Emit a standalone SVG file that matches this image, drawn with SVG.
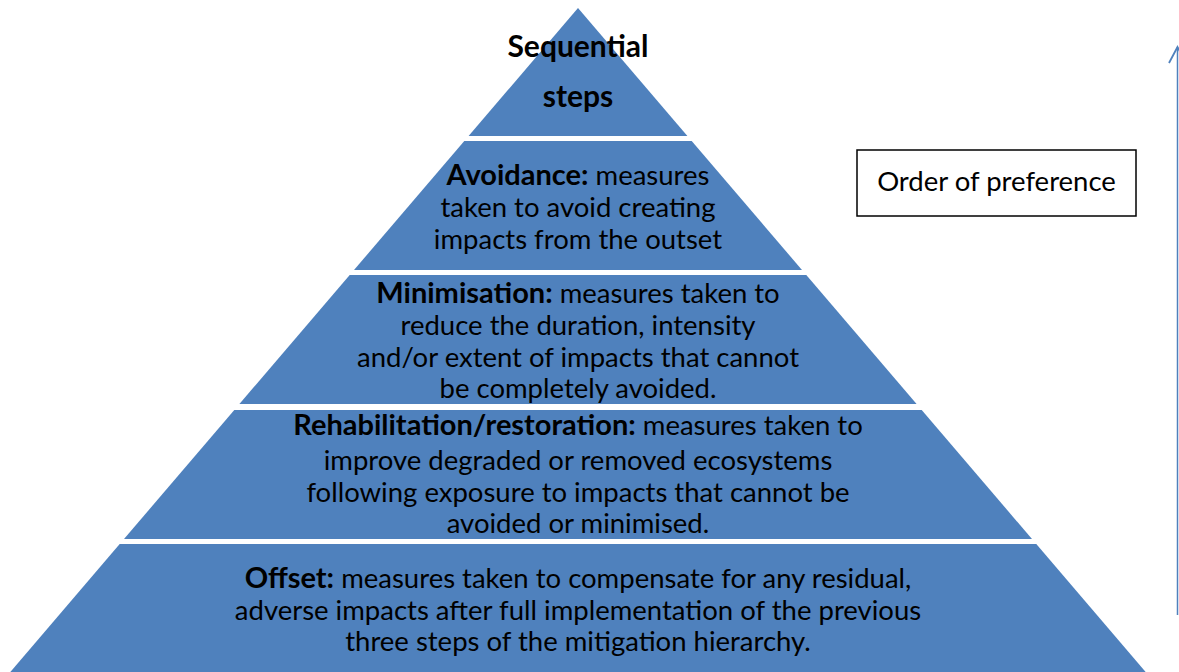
<svg xmlns="http://www.w3.org/2000/svg" width="1179" height="672" viewBox="0 0 1179 672">
  <defs>
    <style>
      .tier { fill: #4F81BD; }
      .t { font-family: Lato, "Liberation Sans", sans-serif; font-size: 27.5px; fill: #000; text-anchor: middle; }
      .b { font-weight: bold; font-size: 29px; }
    </style>
    <marker id="open" viewBox="0 0 20 20" refX="18" refY="10" markerWidth="20" markerHeight="20" markerUnits="userSpaceOnUse" orient="auto">
      <path d="M2,1.5 L18,10 L2,18.5" fill="none" stroke="#4F81BD" stroke-width="1.8"/>
    </marker>
  </defs>
  <rect width="1179" height="672" fill="#fff"/>

  <g id="tier-steps">
    <polygon class="tier" points="578,8 687.4,136 468.6,136"/>
    <text class="t b" x="578" y="57" style="font-size:30px">Sequential</text>
    <text class="t b" x="578" y="107" style="font-size:30px">steps</text>
  </g>

  <g id="tier-avoidance">
    <polygon class="tier" points="464.3,141 691.7,141 802,270 354,270"/>
    <text class="t" x="578" y="184.5"><tspan class="b">Avoidance:</tspan> measures</text>
    <text class="t" x="578" y="216.5">taken to avoid creating</text>
    <text class="t" x="578" y="248.5">impacts from the outset</text>
  </g>

  <g id="tier-minimisation">
    <polygon class="tier" points="349.7,275 806.3,275 916.6,404 239.4,404"/>
    <text class="t" x="578" y="302.5"><tspan class="b">Minimisation:</tspan> measures taken to</text>
    <text class="t" x="578" y="334.5">reduce the duration, intensity</text>
    <text class="t" x="578" y="366.5">and/or extent of impacts that cannot</text>
    <text class="t" x="578" y="397.5">be completely avoided.</text>
  </g>

  <g id="tier-rehabilitation">
    <polygon class="tier" points="234.3,410 921.7,410 1032,539 124,539"/>
    <text class="t" x="578" y="434.5"><tspan class="b">Rehabilitation/restoration:</tspan> measures taken to</text>
    <text class="t" x="578" y="469.5">improve degraded or removed ecosystems</text>
    <text class="t" x="578" y="501.5">following exposure to impacts that cannot be</text>
    <text class="t" x="578" y="532.5">avoided or minimised.</text>
  </g>

  <g id="tier-offset">
    <polygon class="tier" points="119.7,544 1036.3,544 1146.5,673 9.5,673"/>
    <text class="t" x="578" y="587.5"><tspan class="b">Offset:</tspan> measures taken to compensate for any residual,</text>
    <text class="t" x="578" y="619.5">adverse impacts after full implementation of the previous</text>
    <text class="t" x="578" y="650.5">three steps of the mitigation hierarchy.</text>
  </g>

  <g id="order-label">
    <rect x="857" y="150" width="279" height="66" fill="#fff" stroke="#000" stroke-width="1.5"/>
    <text class="t" x="996.5" y="190.5">Order of preference</text>
  </g>

  <g id="connectors">
    <line x1="1177.5" y1="615" x2="1177.5" y2="47" stroke="#4F81BD" stroke-width="1.5" marker-end="url(#open)"/>
  </g>
</svg>
